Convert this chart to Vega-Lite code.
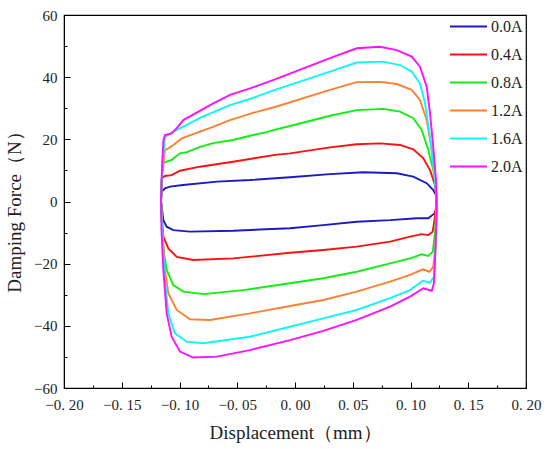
{
  "$schema": "https://vega.github.io/schema/vega-lite/v6.json",
  "width": 462,
  "height": 373,
  "autosize": "none",
  "padding": {"left": 64, "top": 15, "right": 24, "bottom": 61},
  "config": {
    "view": {"stroke": "black", "strokeWidth": 1.2},
    "font": "Liberation Serif",
    "axis": {"grid": false, "domainColor": "black", "tickColor": "black", "labelColor": "#222", "titleColor": "#222", "labelFont": "Liberation Serif", "titleFont": "Liberation Serif", "labelFontSize": 15, "titleFontSize": 19, "titleFontWeight": "normal"}
  },
  "data": {
    "values": [
      {"s": "0.0A", "i": 0, "d": -0.116, "f": 0.2},
      {"s": "0.0A", "i": 1, "d": -0.1154, "f": 3.2},
      {"s": "0.0A", "i": 2, "d": -0.1126, "f": 4.2},
      {"s": "0.0A", "i": 3, "d": -0.1082, "f": 4.8},
      {"s": "0.0A", "i": 4, "d": -0.097, "f": 5.3},
      {"s": "0.0A", "i": 5, "d": -0.0675, "f": 6.4},
      {"s": "0.0A", "i": 6, "d": -0.039, "f": 6.9},
      {"s": "0.0A", "i": 7, "d": -0.0043, "f": 7.8},
      {"s": "0.0A", "i": 8, "d": 0.0303, "f": 8.8},
      {"s": "0.0A", "i": 9, "d": 0.0591, "f": 9.4},
      {"s": "0.0A", "i": 10, "d": 0.0881, "f": 9.1},
      {"s": "0.0A", "i": 11, "d": 0.1024, "f": 8.0},
      {"s": "0.0A", "i": 12, "d": 0.114, "f": 5.9},
      {"s": "0.0A", "i": 13, "d": 0.1197, "f": 3.7},
      {"s": "0.0A", "i": 14, "d": 0.1221, "f": 2.1},
      {"s": "0.0A", "i": 15, "d": 0.1227, "f": -1.7},
      {"s": "0.0A", "i": 16, "d": 0.1212, "f": -3.7},
      {"s": "0.0A", "i": 17, "d": 0.1192, "f": -4.3},
      {"s": "0.0A", "i": 18, "d": 0.1154, "f": -5.4},
      {"s": "0.0A", "i": 19, "d": 0.1054, "f": -5.4},
      {"s": "0.0A", "i": 20, "d": 0.0823, "f": -6.0},
      {"s": "0.0A", "i": 21, "d": 0.0534, "f": -6.5},
      {"s": "0.0A", "i": 22, "d": 0.0245, "f": -7.6},
      {"s": "0.0A", "i": 23, "d": -0.0043, "f": -8.6},
      {"s": "0.0A", "i": 24, "d": -0.0534, "f": -9.4},
      {"s": "0.0A", "i": 25, "d": -0.0909, "f": -9.7},
      {"s": "0.0A", "i": 26, "d": -0.1054, "f": -9.2},
      {"s": "0.0A", "i": 27, "d": -0.1111, "f": -8.1},
      {"s": "0.0A", "i": 28, "d": -0.114, "f": -6.0},
      {"s": "0.0A", "i": 29, "d": -0.116, "f": 0.2},

      {"s": "0.4A", "i": 0, "d": -0.116, "f": 0.2},
      {"s": "0.4A", "i": 1, "d": -0.1154, "f": 7.5},
      {"s": "0.4A", "i": 2, "d": -0.1126, "f": 8.2},
      {"s": "0.4A", "i": 3, "d": -0.1068, "f": 8.5},
      {"s": "0.4A", "i": 4, "d": -0.0996, "f": 9.9},
      {"s": "0.4A", "i": 5, "d": -0.0823, "f": 11.2},
      {"s": "0.4A", "i": 6, "d": -0.0537, "f": 12.8},
      {"s": "0.4A", "i": 7, "d": -0.0173, "f": 15.0},
      {"s": "0.4A", "i": 8, "d": -0.0043, "f": 15.5},
      {"s": "0.4A", "i": 9, "d": 0.0303, "f": 17.4},
      {"s": "0.4A", "i": 10, "d": 0.0534, "f": 18.4},
      {"s": "0.4A", "i": 11, "d": 0.0736, "f": 18.7},
      {"s": "0.4A", "i": 12, "d": 0.0909, "f": 18.2},
      {"s": "0.4A", "i": 13, "d": 0.1024, "f": 16.8},
      {"s": "0.4A", "i": 14, "d": 0.1111, "f": 13.9},
      {"s": "0.4A", "i": 15, "d": 0.1169, "f": 10.1},
      {"s": "0.4A", "i": 16, "d": 0.1212, "f": 5.3},
      {"s": "0.4A", "i": 17, "d": 0.1225, "f": 0.2},
      {"s": "0.4A", "i": 18, "d": 0.1212, "f": -4.9},
      {"s": "0.4A", "i": 19, "d": 0.1192, "f": -9.7},
      {"s": "0.4A", "i": 20, "d": 0.1154, "f": -10.8},
      {"s": "0.4A", "i": 21, "d": 0.1097, "f": -10.5},
      {"s": "0.4A", "i": 22, "d": 0.0996, "f": -11.3},
      {"s": "0.4A", "i": 23, "d": 0.0823, "f": -12.9},
      {"s": "0.4A", "i": 24, "d": 0.0534, "f": -14.5},
      {"s": "0.4A", "i": 25, "d": 0.0245, "f": -15.6},
      {"s": "0.4A", "i": 26, "d": -0.0043, "f": -16.5},
      {"s": "0.4A", "i": 27, "d": -0.0534, "f": -18.3},
      {"s": "0.4A", "i": 28, "d": -0.0881, "f": -18.8},
      {"s": "0.4A", "i": 29, "d": -0.1024, "f": -17.8},
      {"s": "0.4A", "i": 30, "d": -0.1097, "f": -15.1},
      {"s": "0.4A", "i": 31, "d": -0.114, "f": -11.3},
      {"s": "0.4A", "i": 32, "d": -0.1156, "f": -4.3},
      {"s": "0.4A", "i": 33, "d": -0.116, "f": 0.2},

      {"s": "0.8A", "i": 0, "d": -0.116, "f": 0.2},
      {"s": "0.8A", "i": 1, "d": -0.1156, "f": 5.3},
      {"s": "0.8A", "i": 2, "d": -0.1143, "f": 12.3},
      {"s": "0.8A", "i": 3, "d": -0.1111, "f": 12.8},
      {"s": "0.8A", "i": 4, "d": -0.1068, "f": 13.4},
      {"s": "0.8A", "i": 5, "d": -0.0996, "f": 15.5},
      {"s": "0.8A", "i": 6, "d": -0.0935, "f": 15.9},
      {"s": "0.8A", "i": 7, "d": -0.0823, "f": 17.6},
      {"s": "0.8A", "i": 8, "d": -0.071, "f": 18.8},
      {"s": "0.8A", "i": 9, "d": -0.0537, "f": 19.8},
      {"s": "0.8A", "i": 10, "d": -0.0364, "f": 21.4},
      {"s": "0.8A", "i": 11, "d": -0.0245, "f": 22.3},
      {"s": "0.8A", "i": 12, "d": -0.0173, "f": 23.1},
      {"s": "0.8A", "i": 13, "d": -0.0043, "f": 24.3},
      {"s": "0.8A", "i": 14, "d": 0.0303, "f": 27.6},
      {"s": "0.8A", "i": 15, "d": 0.0534, "f": 29.4},
      {"s": "0.8A", "i": 16, "d": 0.0764, "f": 29.8},
      {"s": "0.8A", "i": 17, "d": 0.0909, "f": 28.9},
      {"s": "0.8A", "i": 18, "d": 0.1024, "f": 26.8},
      {"s": "0.8A", "i": 19, "d": 0.1097, "f": 23.0},
      {"s": "0.8A", "i": 20, "d": 0.1154, "f": 16.6},
      {"s": "0.8A", "i": 21, "d": 0.1197, "f": 10.1},
      {"s": "0.8A", "i": 22, "d": 0.1221, "f": 4.8},
      {"s": "0.8A", "i": 23, "d": 0.1227, "f": 0.2},
      {"s": "0.8A", "i": 24, "d": 0.1212, "f": -10.2},
      {"s": "0.8A", "i": 25, "d": 0.1192, "f": -16.2},
      {"s": "0.8A", "i": 26, "d": 0.1154, "f": -17.5},
      {"s": "0.8A", "i": 27, "d": 0.1097, "f": -17.0},
      {"s": "0.8A", "i": 28, "d": 0.0996, "f": -18.3},
      {"s": "0.8A", "i": 29, "d": 0.0823, "f": -19.9},
      {"s": "0.8A", "i": 30, "d": 0.0534, "f": -22.6},
      {"s": "0.8A", "i": 31, "d": 0.0245, "f": -24.7},
      {"s": "0.8A", "i": 32, "d": -0.0043, "f": -26.3},
      {"s": "0.8A", "i": 33, "d": -0.0448, "f": -28.5},
      {"s": "0.8A", "i": 34, "d": -0.0794, "f": -29.8},
      {"s": "0.8A", "i": 35, "d": -0.0967, "f": -29.0},
      {"s": "0.8A", "i": 36, "d": -0.1054, "f": -26.9},
      {"s": "0.8A", "i": 37, "d": -0.1111, "f": -22.0},
      {"s": "0.8A", "i": 38, "d": -0.1134, "f": -16.7},
      {"s": "0.8A", "i": 39, "d": -0.1151, "f": -7.6},
      {"s": "0.8A", "i": 40, "d": -0.116, "f": 0.2},

      {"s": "1.2A", "i": 0, "d": -0.116, "f": 0.2},
      {"s": "1.2A", "i": 1, "d": -0.1151, "f": 8.5},
      {"s": "1.2A", "i": 2, "d": -0.1126, "f": 16.6},
      {"s": "1.2A", "i": 3, "d": -0.1097, "f": 17.1},
      {"s": "1.2A", "i": 4, "d": -0.1054, "f": 18.2},
      {"s": "1.2A", "i": 5, "d": -0.0981, "f": 20.3},
      {"s": "1.2A", "i": 6, "d": -0.0823, "f": 22.5},
      {"s": "1.2A", "i": 7, "d": -0.071, "f": 24.0},
      {"s": "1.2A", "i": 8, "d": -0.0563, "f": 26.2},
      {"s": "1.2A", "i": 9, "d": -0.0364, "f": 28.5},
      {"s": "1.2A", "i": 10, "d": -0.0173, "f": 30.4},
      {"s": "1.2A", "i": 11, "d": 0.0303, "f": 35.9},
      {"s": "1.2A", "i": 12, "d": 0.0534, "f": 38.4},
      {"s": "1.2A", "i": 13, "d": 0.0736, "f": 38.5},
      {"s": "1.2A", "i": 14, "d": 0.0881, "f": 37.8},
      {"s": "1.2A", "i": 15, "d": 0.101, "f": 35.9},
      {"s": "1.2A", "i": 16, "d": 0.1082, "f": 32.7},
      {"s": "1.2A", "i": 17, "d": 0.114, "f": 26.2},
      {"s": "1.2A", "i": 18, "d": 0.1184, "f": 16.6},
      {"s": "1.2A", "i": 19, "d": 0.1212, "f": 8.0},
      {"s": "1.2A", "i": 20, "d": 0.1227, "f": 0.2},
      {"s": "1.2A", "i": 21, "d": 0.1221, "f": -9.2},
      {"s": "1.2A", "i": 22, "d": 0.1212, "f": -15.6},
      {"s": "1.2A", "i": 23, "d": 0.1197, "f": -21.0},
      {"s": "1.2A", "i": 24, "d": 0.1163, "f": -22.6},
      {"s": "1.2A", "i": 25, "d": 0.1106, "f": -21.8},
      {"s": "1.2A", "i": 26, "d": 0.0996, "f": -23.6},
      {"s": "1.2A", "i": 27, "d": 0.0823, "f": -25.8},
      {"s": "1.2A", "i": 28, "d": 0.0534, "f": -29.0},
      {"s": "1.2A", "i": 29, "d": 0.0245, "f": -31.7},
      {"s": "1.2A", "i": 30, "d": -0.0043, "f": -33.6},
      {"s": "1.2A", "i": 31, "d": -0.039, "f": -36.0},
      {"s": "1.2A", "i": 32, "d": -0.0736, "f": -38.1},
      {"s": "1.2A", "i": 33, "d": -0.0909, "f": -37.9},
      {"s": "1.2A", "i": 34, "d": -0.1024, "f": -34.9},
      {"s": "1.2A", "i": 35, "d": -0.1097, "f": -29.5},
      {"s": "1.2A", "i": 36, "d": -0.1126, "f": -22.0},
      {"s": "1.2A", "i": 37, "d": -0.1147, "f": -10.8},
      {"s": "1.2A", "i": 38, "d": -0.116, "f": 0.2},

      {"s": "1.6A", "i": 0, "d": -0.116, "f": 0.2},
      {"s": "1.6A", "i": 1, "d": -0.1151, "f": 10.1},
      {"s": "1.6A", "i": 2, "d": -0.1126, "f": 20.8},
      {"s": "1.6A", "i": 3, "d": -0.1097, "f": 21.4},
      {"s": "1.6A", "i": 4, "d": -0.1054, "f": 22.5},
      {"s": "1.6A", "i": 5, "d": -0.0967, "f": 24.1},
      {"s": "1.6A", "i": 6, "d": -0.0823, "f": 26.9},
      {"s": "1.6A", "i": 7, "d": -0.0563, "f": 31.0},
      {"s": "1.6A", "i": 8, "d": -0.0364, "f": 33.3},
      {"s": "1.6A", "i": 9, "d": -0.0173, "f": 35.9},
      {"s": "1.6A", "i": 10, "d": 0.0303, "f": 41.8},
      {"s": "1.6A", "i": 11, "d": 0.0534, "f": 44.7},
      {"s": "1.6A", "i": 12, "d": 0.0764, "f": 45.0},
      {"s": "1.6A", "i": 13, "d": 0.0909, "f": 43.9},
      {"s": "1.6A", "i": 14, "d": 0.101, "f": 41.8},
      {"s": "1.6A", "i": 15, "d": 0.1082, "f": 38.0},
      {"s": "1.6A", "i": 16, "d": 0.1126, "f": 31.6},
      {"s": "1.6A", "i": 17, "d": 0.1169, "f": 20.8},
      {"s": "1.6A", "i": 18, "d": 0.1203, "f": 10.1},
      {"s": "1.6A", "i": 19, "d": 0.1227, "f": 0.2},
      {"s": "1.6A", "i": 20, "d": 0.1221, "f": -12.4},
      {"s": "1.6A", "i": 21, "d": 0.1203, "f": -24.2},
      {"s": "1.6A", "i": 22, "d": 0.1169, "f": -26.1},
      {"s": "1.6A", "i": 23, "d": 0.1106, "f": -25.5},
      {"s": "1.6A", "i": 24, "d": 0.0996, "f": -28.5},
      {"s": "1.6A", "i": 25, "d": 0.0823, "f": -31.1},
      {"s": "1.6A", "i": 26, "d": 0.0534, "f": -34.9},
      {"s": "1.6A", "i": 27, "d": 0.0245, "f": -37.6},
      {"s": "1.6A", "i": 28, "d": -0.0043, "f": -40.3},
      {"s": "1.6A", "i": 29, "d": -0.039, "f": -43.5},
      {"s": "1.6A", "i": 30, "d": -0.0794, "f": -45.6},
      {"s": "1.6A", "i": 31, "d": -0.0938, "f": -45.1},
      {"s": "1.6A", "i": 32, "d": -0.1039, "f": -42.4},
      {"s": "1.6A", "i": 33, "d": -0.1097, "f": -36.0},
      {"s": "1.6A", "i": 34, "d": -0.1126, "f": -25.3},
      {"s": "1.6A", "i": 35, "d": -0.1147, "f": -12.4},
      {"s": "1.6A", "i": 36, "d": -0.116, "f": 0.2},

      {"s": "2.0A", "i": 0, "d": -0.116, "f": 0.2},
      {"s": "2.0A", "i": 1, "d": -0.1151, "f": 11.7},
      {"s": "2.0A", "i": 2, "d": -0.1139, "f": 19.8},
      {"s": "2.0A", "i": 3, "d": -0.1126, "f": 21.4},
      {"s": "2.0A", "i": 4, "d": -0.1068, "f": 21.9},
      {"s": "2.0A", "i": 5, "d": -0.1024, "f": 23.6},
      {"s": "2.0A", "i": 6, "d": -0.0967, "f": 26.2},
      {"s": "2.0A", "i": 7, "d": -0.0736, "f": 31.0},
      {"s": "2.0A", "i": 8, "d": -0.0563, "f": 34.3},
      {"s": "2.0A", "i": 9, "d": -0.039, "f": 36.4},
      {"s": "2.0A", "i": 10, "d": -0.0173, "f": 39.3},
      {"s": "2.0A", "i": 11, "d": 0.0303, "f": 46.1},
      {"s": "2.0A", "i": 12, "d": 0.0534, "f": 49.3},
      {"s": "2.0A", "i": 13, "d": 0.0736, "f": 49.8},
      {"s": "2.0A", "i": 14, "d": 0.0881, "f": 48.7},
      {"s": "2.0A", "i": 15, "d": 0.101, "f": 46.6},
      {"s": "2.0A", "i": 16, "d": 0.1082, "f": 43.4},
      {"s": "2.0A", "i": 17, "d": 0.114, "f": 36.9},
      {"s": "2.0A", "i": 18, "d": 0.1169, "f": 28.4},
      {"s": "2.0A", "i": 19, "d": 0.1197, "f": 17.6},
      {"s": "2.0A", "i": 20, "d": 0.1221, "f": 6.9},
      {"s": "2.0A", "i": 21, "d": 0.1227, "f": -2.7},
      {"s": "2.0A", "i": 22, "d": 0.1216, "f": -15.6},
      {"s": "2.0A", "i": 23, "d": 0.1203, "f": -26.3},
      {"s": "2.0A", "i": 24, "d": 0.1184, "f": -28.7},
      {"s": "2.0A", "i": 25, "d": 0.1111, "f": -27.9},
      {"s": "2.0A", "i": 26, "d": 0.0996, "f": -30.6},
      {"s": "2.0A", "i": 27, "d": 0.0823, "f": -33.8},
      {"s": "2.0A", "i": 28, "d": 0.0534, "f": -38.1},
      {"s": "2.0A", "i": 29, "d": 0.0245, "f": -41.6},
      {"s": "2.0A", "i": 30, "d": -0.0043, "f": -44.6},
      {"s": "2.0A", "i": 31, "d": -0.039, "f": -47.8},
      {"s": "2.0A", "i": 32, "d": -0.0678, "f": -49.9},
      {"s": "2.0A", "i": 33, "d": -0.0881, "f": -50.2},
      {"s": "2.0A", "i": 34, "d": -0.0996, "f": -48.3},
      {"s": "2.0A", "i": 35, "d": -0.1068, "f": -43.5},
      {"s": "2.0A", "i": 36, "d": -0.1111, "f": -36.0},
      {"s": "2.0A", "i": 37, "d": -0.114, "f": -22.0},
      {"s": "2.0A", "i": 38, "d": -0.1156, "f": -9.2},
      {"s": "2.0A", "i": 39, "d": -0.116, "f": 0.2}
    ]
  },
  "resolve": {"axis": {"x": "independent", "y": "independent"}},
  "layer": [
    {
      "mark": {"type": "line", "strokeWidth": 1.9},
      "encoding": {
        "x": {
          "field": "d", "type": "quantitative",
          "scale": {"domain": [-0.2, 0.2], "nice": false, "zero": false},
          "axis": {"orient": "bottom", "title": "Displacement（mm）", "values": [-0.2, -0.15, -0.1, -0.05, 0, 0.05, 0.1, 0.15, 0.2], "labelExpr": "replace(format(datum.value, '.2f'), '.', '. ')", "tickSize": -6, "labelPadding": 15, "titlePadding": 11, "labelFlush": false}
        },
        "y": {
          "field": "f", "type": "quantitative",
          "scale": {"domain": [-60, 60], "nice": false},
          "axis": {"orient": "left", "title": "Damping Force（N）", "values": [-60, -40, -20, 0, 20, 40, 60], "format": "d", "tickSize": -6, "labelPadding": 13, "titlePadding": 9, "titleY": 192, "labelFlush": false}
        },
        "color": {
          "field": "s", "type": "nominal",
          "scale": {"domain": ["0.0A", "0.4A", "0.8A", "1.2A", "1.6A", "2.0A"], "range": ["#1a1ac8", "#ff1010", "#10f010", "#ff8030", "#10f5f5", "#ff10ff"]},
          "legend": {"title": null, "orient": "none", "legendX": 385, "legendY": -8, "symbolType": "stroke", "symbolStrokeWidth": 2, "symbolSize": 1369, "labelFontSize": 16, "labelFont": "Liberation Serif", "labelColor": "#222", "labelOffset": 3, "rowPadding": -10}
        },
        "order": {"field": "i", "type": "quantitative"}
      }
    },
    {
      "mark": {"type": "point", "opacity": 0},
      "encoding": {
        "x": {"field": "d", "type": "quantitative", "axis": {"orient": "bottom", "title": null, "labels": false, "domain": false, "values": [-0.175, -0.125, -0.075, -0.025, 0.025, 0.075, 0.125, 0.175], "tickSize": -3}},
        "y": {"field": "f", "type": "quantitative", "axis": {"orient": "left", "title": null, "labels": false, "domain": false, "values": [-50, -30, -10, 10, 30, 50], "tickSize": -3}}
      }
    }
  ]
}
